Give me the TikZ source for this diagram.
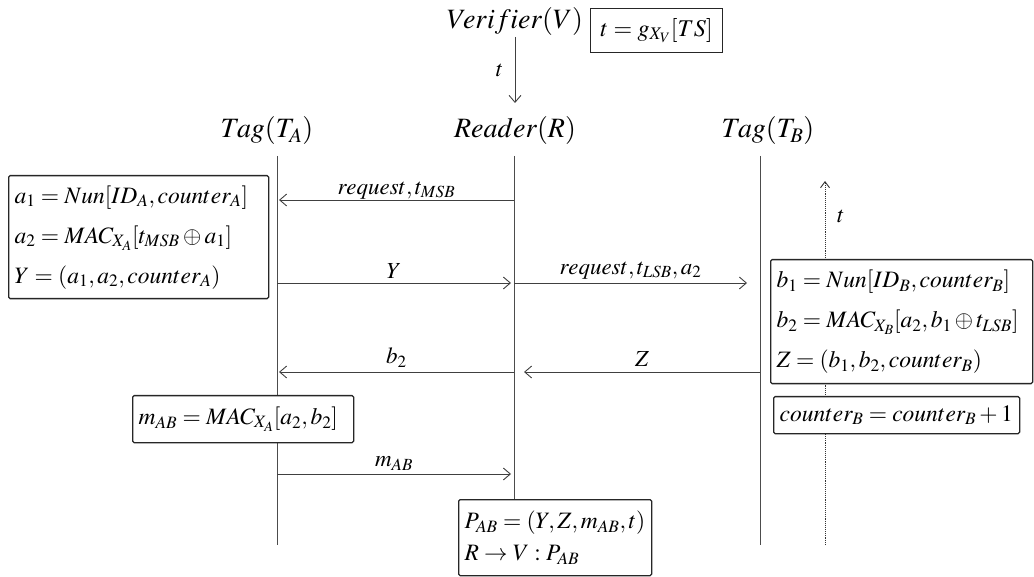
\documentclass[tikz,border=0pt]{standalone}
\usepackage{mathptmx}
\usepackage{fontspec}
\setmainfont{Liberation Serif}
\usetikzlibrary{arrows.meta}
\begin{document}
\begin{tikzpicture}[x=1pt,y=-1pt,
  box/.style={draw=black!85, line width=1.3pt, rounded corners=1.5pt, fill=white, align=left,
    inner xsep=6pt, inner ysep=1pt, anchor=north west, font=\fontsize{23.5}{40}\selectfont},
  lbl/.style={font=\fontsize{28}{30}\selectfont},
  mlbl/.style={font=\fontsize{23}{25}\selectfont},
  msg/.style={draw=black!75, line width=0.9pt, -{Straight Barb[length=7pt,width=12pt]}},
  life/.style={draw=black!70, line width=0.9pt}]
\useasboundingbox (0,0) rectangle (1034,577);
% heads
\node[lbl] (V) at (515,22) {$Verifier(V)$};
\node[draw=black!85, line width=1.3pt, inner sep=0pt, minimum width=132, minimum height=44, anchor=north west, font=\fontsize{24}{26}\selectfont] (tbox) at (590,8) {$t = g_{X_V}[TS]$};
\node[lbl] (TA) at (267,131) {$Tag(T_A)$};
\node[lbl] (R) at (515,131) {$Reader(R)$};
\node[lbl] (TB) at (768,131) {$Tag(T_B)$};
\coordinate (Vb) at (515,37);
\coordinate (Rt) at (515,103);
\draw[msg] (Vb) -- node[left=8pt, mlbl] {$t$} (Rt);
% lifelines
\coordinate (A0) at (277,156); \coordinate (A9) at (277,545);
\coordinate (R0) at (514,156); \coordinate (R9) at (514,499);
\coordinate (B0) at (760,156); \coordinate (B9) at (760,545);
\draw[life] (A0) -- (A9);
\draw[life] (R0) -- (R9);
\draw[life] (B0) -- (B9);
% time axis
\coordinate (T0) at (825,545); \coordinate (T1) at (825,181);
\draw[densely dotted, line width=0.9pt, draw=black!80, -{Straight Barb[length=6pt,width=9pt]}] (T0) -- (T1);
\node[mlbl] (tt) at (841,216) {$t$};
% messages
\coordinate (m1r) at (514,200); \coordinate (m1a) at (279,200);
\draw[msg] (m1r) -- node[above=-3pt, mlbl] {$request, t_{MSB}$} (m1a);
\coordinate (m2a) at (277,283); \coordinate (m2r) at (511,283);
\draw[msg] (m2a) -- node[above=1pt, mlbl] {$Y$} (m2r);
\coordinate (m3r) at (514,283); \coordinate (m3b) at (747,283);
\draw[msg] (m3r) -- node[above=0pt, mlbl] {$request, t_{LSB}, a_2$} (m3b);
\coordinate (m4b) at (760,372); \coordinate (m4r) at (524,372);
\draw[msg] (m4b) -- node[above=2pt, mlbl] {$Z$} (m4r);
\coordinate (m5r) at (514,372); \coordinate (m5a) at (279,372);
\draw[msg] (m5r) -- node[above=1pt, mlbl] {$b_2$} (m5a);
\coordinate (m6a) at (277,474); \coordinate (m6r) at (511,474);
\draw[msg] (m6a) -- node[above=0pt, mlbl] {$m_{AB}$} (m6r);
% boxes
\node[box, minimum width=260, minimum height=123, text width=248] (boxA) at (8,175)
  {$a_1 = Nun[ID_A, counter_A]$\\ $a_2 = MAC_{X_A}[t_{MSB} \oplus a_1]$\\ $Y = (a_1, a_2, counter_A)$};
\node[box, minimum width=262, minimum height=124, text width=250] (boxB) at (770,259)
  {$b_1 = Nun[ID_B, counter_B]$\\ $b_2 = MAC_{X_B}[a_2, b_1 \oplus t_{LSB}]$\\ $Z = (b_1, b_2, counter_B)$};
\node[box, minimum width=246, minimum height=37, text width=234] (boxC) at (773,396)
  {$counter_B = counter_B + 1$};
\node[box, minimum width=221, minimum height=47, text width=209] (boxM) at (132,395)
  {$m_{AB} = MAC_{X_A}[a_2, b_2]$};
\node[box, minimum width=193, minimum height=76, text width=181, font=\fontsize{23.5}{32}\selectfont] (boxP) at (458,499)
  {$P_{AB} = (Y, Z, m_{AB}, t)$\\ $R \rightarrow V : P_{AB}$};
\end{tikzpicture}
\end{document}
